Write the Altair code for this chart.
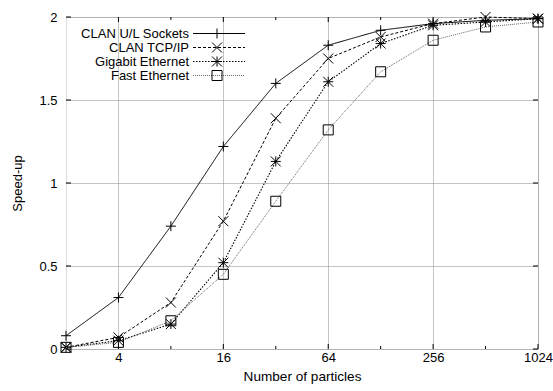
import altair as alt
import pandas as pd

# ---- data ----
particles = [2, 4, 8, 16, 32, 64, 128, 256, 512, 1024]
clan_ul = [0.08, 0.31, 0.74, 1.22, 1.60, 1.83, 1.92, 1.96, 1.98, 1.99]
clan_tcp = [0.01, 0.07, 0.28, 0.77, 1.39, 1.75, 1.88, 1.96, 2.00, 1.99]
gigabit = [0.01, 0.05, 0.15, 0.52, 1.13, 1.61, 1.84, 1.95, 1.97, 1.99]
fast_eth = [0.01, 0.04, 0.17, 0.45, 0.89, 1.32, 1.67, 1.86, 1.94, 1.97]

series_names = ["CLAN U/L Sockets", "CLAN TCP/IP", "Gigabit Ethernet", "Fast Ethernet"]
series_values = [clan_ul, clan_tcp, gigabit, fast_eth]

x_major = [4, 16, 64, 256, 1024]
x_minor = [8, 32, 128, 512]
y_ticks = [0, 0.5, 1, 1.5, 2]

# ---- styles ----
FONT = "Liberation Sans"
W, H = 472, 332
PLUS = "M-1,0L1,0M0,-1L0,1"
CROSS = "M-1,-1L1,1M-1,1L1,-1"
STAR = "M-1,0L1,0M0,-1L0,1M-1,-1L1,1M-1,1L1,-1"
styles = [
    dict(shape=PLUS, dash=[1, 0], color="#000000", width=1.0),
    dict(shape=CROSS, dash=[3, 2], color="#000000", width=1.0),
    dict(shape=STAR, dash=[1.5, 1.5], color="#000000", width=1.1),
    dict(shape="square", dash=[1, 1], color="#666666", width=1.0),
]

xscale = alt.Scale(type="log", base=2, domain=[2, 1024], nice=False)
yscale = alt.Scale(domain=[0, 2], nice=False, zero=False)

x_axis = alt.Axis(
    values=x_major, title="Number of particles", grid=True, gridDash=[1, 1],
    gridColor="#888888", gridOpacity=1, domain=False, ticks=False,
    labelFont=FONT, labelFontSize=13, labelColor="#000", labelPadding=2,
    labelExpr="datum.value",
    titleFont=FONT, titleFontSize=13.6, titleFontWeight="normal", titleColor="#000",
    titlePadding=5, labelFlush=False,
)
y_axis = alt.Axis(
    values=y_ticks, title="Speed-up", grid=True, gridDash=[1, 1],
    gridColor="#888888", gridOpacity=1, domain=False, ticks=False,
    labelFont=FONT, labelFontSize=13, labelColor="#000", labelPadding=9,
    labelExpr="datum.value", titleFont=FONT, titleFontSize=13,
    titleFontWeight="normal", titleColor="#000", titlePadding=14,
)


def X():
    return alt.X("n:Q", scale=xscale, axis=x_axis)


def Y():
    return alt.Y("s:Q", scale=yscale, axis=y_axis)


layers = []

# axes/grid carrier
grid_df = pd.DataFrame({"n": [2, 1024], "s": [0, 2]})
layers.append(alt.Chart(grid_df).mark_point(opacity=0).encode(x=X(), y=Y()))

# inward ticks (mirrored)
xmaj_df = pd.DataFrame({"n": x_major})
xmin_df = pd.DataFrame({"n": x_minor})
ytk_df = pd.DataFrame({"s": y_ticks})
for df, L in [(xmaj_df, 5), (xmin_df, 3)]:
    for y0, y1 in [(H, H - L), (0, L)]:
        layers.append(
            alt.Chart(df).mark_rule(color="#000", strokeWidth=1).encode(
                x=X(), y=alt.value(y0), y2=alt.value(y1),
            )
        )
for x0, x1 in [(0, 5), (W, W - 5)]:
    layers.append(
        alt.Chart(ytk_df).mark_rule(color="#000", strokeWidth=1).encode(
            y=Y(), x=alt.value(x0), x2=alt.value(x1),
        )
    )

# series
for name, vals, st in zip(series_names, series_values, styles):
    df = pd.DataFrame({"n": particles, "s": vals, "series": name})
    layers.append(
        alt.Chart(df).mark_line(
            color=st["color"], strokeDash=st["dash"], strokeWidth=st["width"], clip=False
        ).encode(x=X(), y=Y())
    )
    layers.append(
        alt.Chart(df).mark_point(
            shape=st["shape"], size=100, filled=False, color="#000",
            strokeWidth=1, opacity=1, clip=False
        ).encode(x=X(), y=Y())
    )

# manual gnuplot-style legend (text, then sample line with marker)
leg_df = pd.DataFrame({"series": series_names})
for i, (name, st) in enumerate(zip(series_names, styles)):
    yy = 16.5 + i * 14
    one = leg_df[leg_df.series == name]
    layers.append(
        alt.Chart(one).mark_text(
            align="right", baseline="middle", font=FONT, fontSize=13, color="#000"
        ).encode(text="series:N", x=alt.value(123), y=alt.value(yy))
    )
    layers.append(
        alt.Chart(one).mark_rule(
            color=st["color"], strokeDash=st["dash"], strokeWidth=st["width"]
        ).encode(x=alt.value(127), x2=alt.value(179), y=alt.value(yy))
    )
    layers.append(
        alt.Chart(one).mark_point(
            shape=st["shape"], size=100, filled=False, color="#000", strokeWidth=1, opacity=1
        ).encode(x=alt.value(151), y=alt.value(yy))
    )

chart = alt.layer(*layers).properties(
    width=W, height=H,
    autosize=alt.AutoSizeParams(type="none"),
    padding={"left": 66, "top": 17, "right": 15, "bottom": 42},
).configure_view(stroke="#000", strokeWidth=1).configure(background="white")

chart.save("out.html", embed_options={"renderer": "svg", "actions": False})
